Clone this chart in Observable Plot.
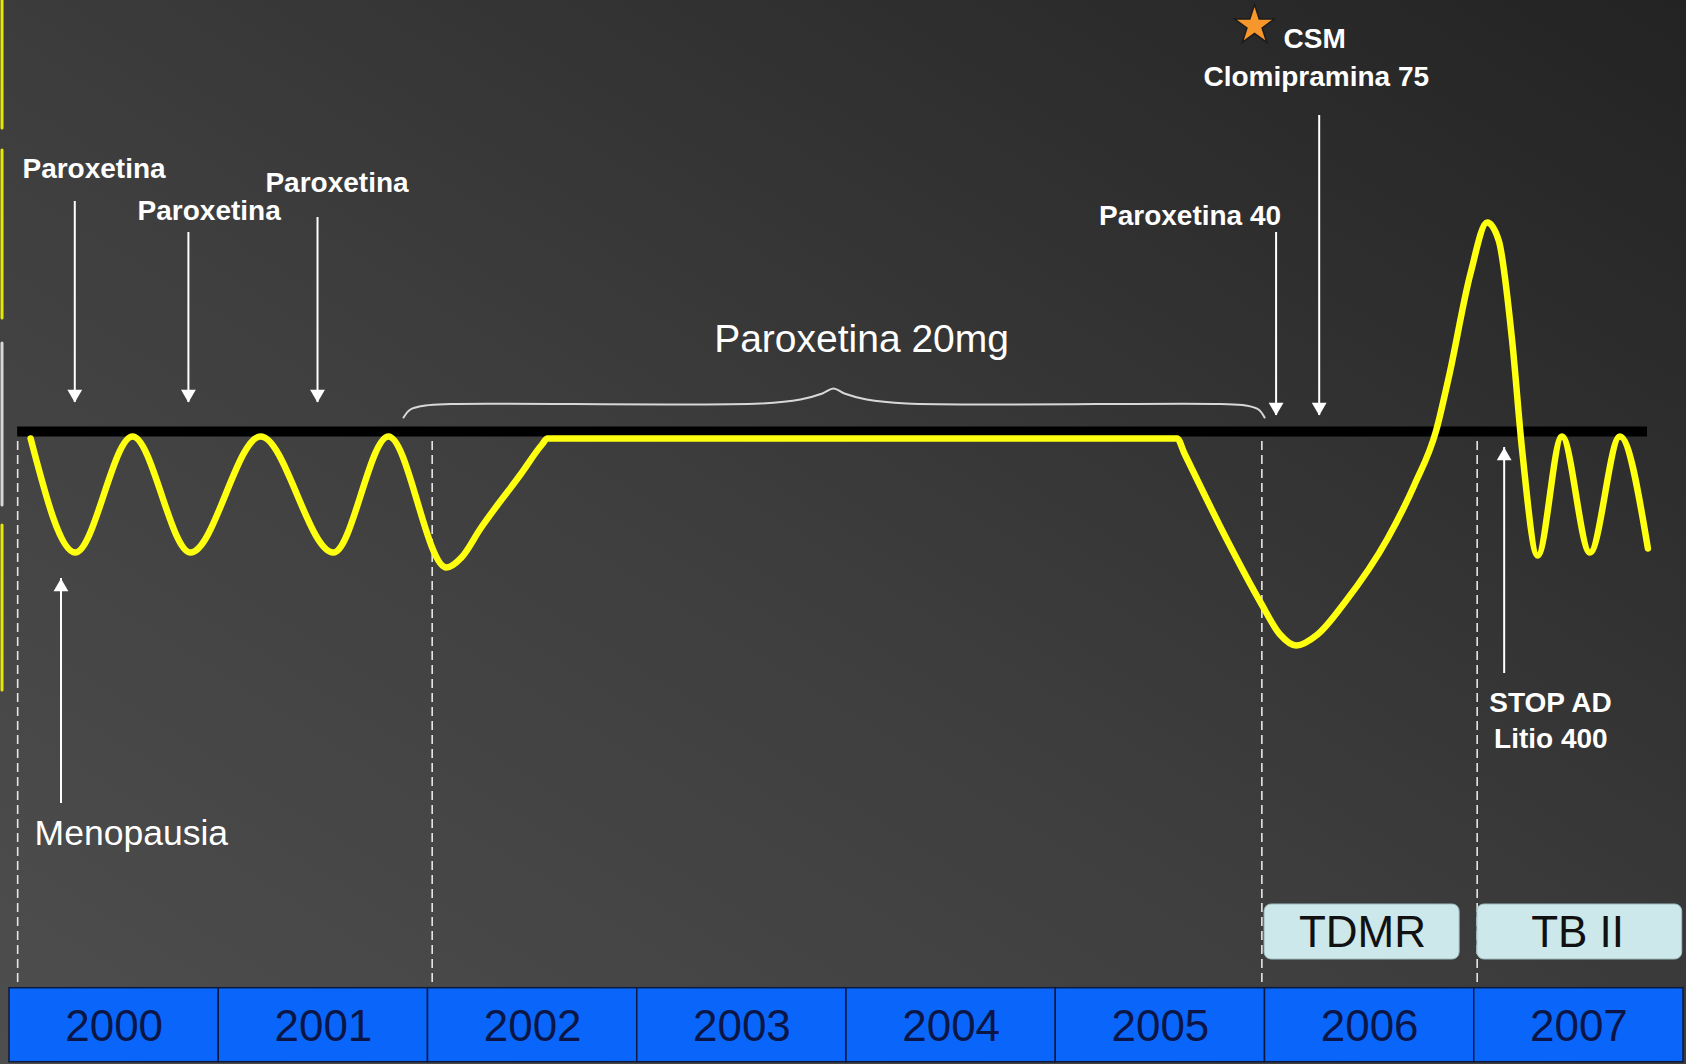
<!DOCTYPE html>
<html>
<head>
<meta charset="utf-8">
<script src="https://cdn.jsdelivr.net/npm/d3@7"></script>
<script src="https://cdn.jsdelivr.net/npm/@observablehq/plot@0.6"></script>
<style>
html, body { margin: 0; padding: 0; background: #3a3a3a; overflow: hidden; }
#chart svg { display: block; }
</style>
</head>
<body>
<div id="chart"></div>
<script>
// ---- Data (years on x, mood level on y; 0 = euthymic baseline) ----
const years = [2000, 2001, 2002, 2003, 2004, 2005, 2006, 2007];

const moodYear  = [2000.101, 2000.314, 2000.588, 2000.865, 2001.200, 2001.548, 2001.811, 2002.088,
                   2002.160, 2002.251, 2002.442, 2002.545, 2002.571, 2005.580, 2005.615, 2005.815, 2005.979, 2006.072, 2006.149,
                   2006.251, 2006.381, 2006.586, 2006.715, 2006.818, 2006.878, 2006.982, 2007.062,
                   2007.117, 2007.181, 2007.229, 2007.303, 2007.419, 2007.553, 2007.696, 2007.830];
const moodLevel = [-0.7, -12.1, -0.5, -12.1, -0.5, -12.1, -0.5, -13.6,
                   -12.6, -9.7, -4.3, -1.3, -0.7, -0.7, -2.2, -10.7, -17.1, -20.3, -21.4,
                   -20.3, -17.1, -10.7, -5.3, 0.1, 5.4, 15.8, 20.9,
                   19.1, 9.1, -1.9, -12.4, -0.5, -12.1, -0.5, -11.7];

const baselineSpan = [2000.039, 2007.828];
const dividerYears = [2000.039, 2002.020, 2005.985, 2007.014];
const dividerSpan  = [-1.0, -55.7];

const braceYear  = [2001.883, 2001.916, 2001.988, 2002.108, 2003.589, 2003.780, 2003.885, 2003.938,
                    2003.990, 2004.096, 2004.287, 2005.787, 2005.907, 2005.969, 2005.998];
const braceLevel = [1.4, 2.2, 2.6, 2.75, 2.8, 3.2, 3.8, 4.3, 3.8, 3.2, 2.8, 2.75, 2.6, 2.2, 1.4];

const labelText   = ["Paroxetina", "Paroxetina", "Paroxetina", "Paroxetina 40", "Clomipramina 75", "CSM", "STOP AD", "Litio 400"];
const labelYear   = [2000.062, 2000.612, 2001.223, 2006.077, 2006.245, 2006.089, 2007.364, 2007.366];
const labelLevel  = [26.2, 22.0, 24.85, 21.5, 35.45, 39.2, -27.2, -30.75];
const labelAnchor = ["start", "start", "start", "end", "middle", "start", "middle", "middle"];

const downArrowYear = [2000.312, 2000.855, 2001.472, 2006.053, 2006.259];
const downArrowFrom = [23.0, 19.9, 21.4, 19.9, 31.6];
const downArrowTo   = [2.9, 2.9, 2.9, 1.6, 1.6];
const upArrowYear = [2000.246, 2007.143];
const upArrowFrom = [-37.2, -24.2];
const upArrowTo   = [-14.7, -1.6];

const starYear = 2005.950, starLevel = 40.6;

const spanText = "Paroxetina 20mg", spanYear = 2004.072, spanLevel = 9.15;
const menoText = "Menopausia", menoYear = 2000.120, menoLevel = -40.2;

const phaseText = ["TDMR", "TB II"];
const phaseStart = [2005.998, 2007.015];
const phaseEnd   = [2006.930, 2007.994];
const phaseMid   = [2006.466, 2007.494];
const phaseTop = -47.3, phaseBottom = -52.8, phaseTextLevel = -50.1;

const bandTop = -55.67, bandBottom = -63.07, yearTextLevel = -59.5;

// slide-thumbnail edge remnants at the far left
const edgeFrom  = [43.1, 28.1, 8.8, -9.4];
const edgeTo    = [30.3, 11.3, -7.4, -25.9];
const edgeColor = ["#e8e800", "#e8e800", "#d8d8d8", "#e8e800"];

// ---- Build ----
const idx = a => a.map((_, i) => i);
const font = "Liberation Sans, Arial, sans-serif";
const labelMark = anchor => Plot.text(idx(labelText), {
  filter: i => labelAnchor[i] === anchor,
  x: i => labelYear[i], y: i => labelLevel[i], text: i => labelText[i],
  textAnchor: anchor, fill: "white", fontSize: 28, fontWeight: "bold", fontFamily: font
});

const chart = Plot.plot({
  width: 1686,
  height: 1064,
  marginLeft: 9, marginRight: 3, marginTop: 0, marginBottom: 0,
  x: {domain: [2000, 2008], axis: null},
  y: {domain: [-63.3, 43.1], axis: null},
  style: {
    background: "linear-gradient(to top right, #4e4e4e 0%, #3e3e3e 45%, #2f2f2f 75%, #232323 100%)",
    fontFamily: font,
    overflow: "visible"
  },
  marks: [
    // left edge remnants
    Plot.ruleX(idx(edgeFrom), {x: 2000 - 7.5 / 209.25, y1: i => edgeFrom[i], y2: i => edgeTo[i],
      stroke: i => edgeColor[i], strokeWidth: 3, strokeLinecap: "round"}),
    // dashed dividers
    Plot.ruleX(dividerYears, {x: d => d, y1: dividerSpan[0], y2: dividerSpan[1],
      stroke: "#e6e6e6", strokeWidth: 1.6, strokeDasharray: "9,5"}),
    // brace over Paroxetina 20mg
    Plot.line(idx(braceYear), {x: i => braceYear[i], y: i => braceLevel[i], curve: "catmull-rom",
      stroke: "#d8d8d8", strokeWidth: 2}),
    Plot.text([spanText], {x: spanYear, y: spanLevel, text: d => d, fill: "white",
      fontSize: 39, fontFamily: font}),
    // black baseline
    Plot.ruleY([0], {x1: baselineSpan[0], x2: baselineSpan[1], stroke: "black", strokeWidth: 10}),
    // mood curve
    Plot.line(idx(moodYear), {x: i => moodYear[i], y: i => moodLevel[i], curve: "monotone-x",
      stroke: "#ffff10", strokeWidth: 6.5, strokeLinecap: "round", strokeLinejoin: "round"}),
    // down arrows
    Plot.ruleX(idx(downArrowYear), {x: i => downArrowYear[i], y1: i => downArrowFrom[i], y2: i => downArrowTo[i],
      stroke: "white", strokeWidth: 2}),
    Plot.dot(idx(downArrowYear), {x: i => downArrowYear[i], y: i => downArrowTo[i], symbol: "triangle",
      rotate: 180, r: 5.5, fill: "white", stroke: "none", dy: -8.5}),
    // up arrows
    Plot.ruleX(idx(upArrowYear), {x: i => upArrowYear[i], y1: i => upArrowFrom[i], y2: i => upArrowTo[i],
      stroke: "white", strokeWidth: 2}),
    Plot.dot(idx(upArrowYear), {x: i => upArrowYear[i], y: i => upArrowTo[i], symbol: "triangle",
      r: 5.5, fill: "white", stroke: "none", dy: 8.5}),
    // labels
    labelMark("start"), labelMark("middle"), labelMark("end"),
    Plot.text([menoText], {x: menoYear, y: menoLevel, text: d => d, textAnchor: "start",
      fill: "white", fontSize: 35.5, fontFamily: font}),
    // star
    Plot.dot([0], {x: starYear, y: starLevel, symbol: "star", r: 12.5, fill: "#f7962b",
      stroke: "#1c1c1c", strokeWidth: 1.5}),
    // phase boxes
    Plot.rect(idx(phaseText), {x1: i => phaseStart[i], x2: i => phaseEnd[i], y1: phaseTop, y2: phaseBottom,
      fill: "#cde8ea", stroke: "#9fbfc2", strokeWidth: 1, rx: 7}),
    Plot.text(idx(phaseText), {x: i => phaseMid[i], y: phaseTextLevel, text: i => phaseText[i],
      fill: "#111", fontSize: 44, fontFamily: font}),
    // year band
    Plot.rect(years, {x1: d => d, x2: d => d + 1, y1: bandTop, y2: bandBottom,
      fill: "#0a66fb", stroke: "#0c1a40", strokeWidth: 1.5}),
    Plot.text(years, {x: d => d + 0.5, y: yearTextLevel, text: d => String(d),
      fill: "#0b1646", fontSize: 44, fontFamily: font})
  ]
});

document.getElementById("chart").appendChild(chart);
</script>
</body>
</html>
